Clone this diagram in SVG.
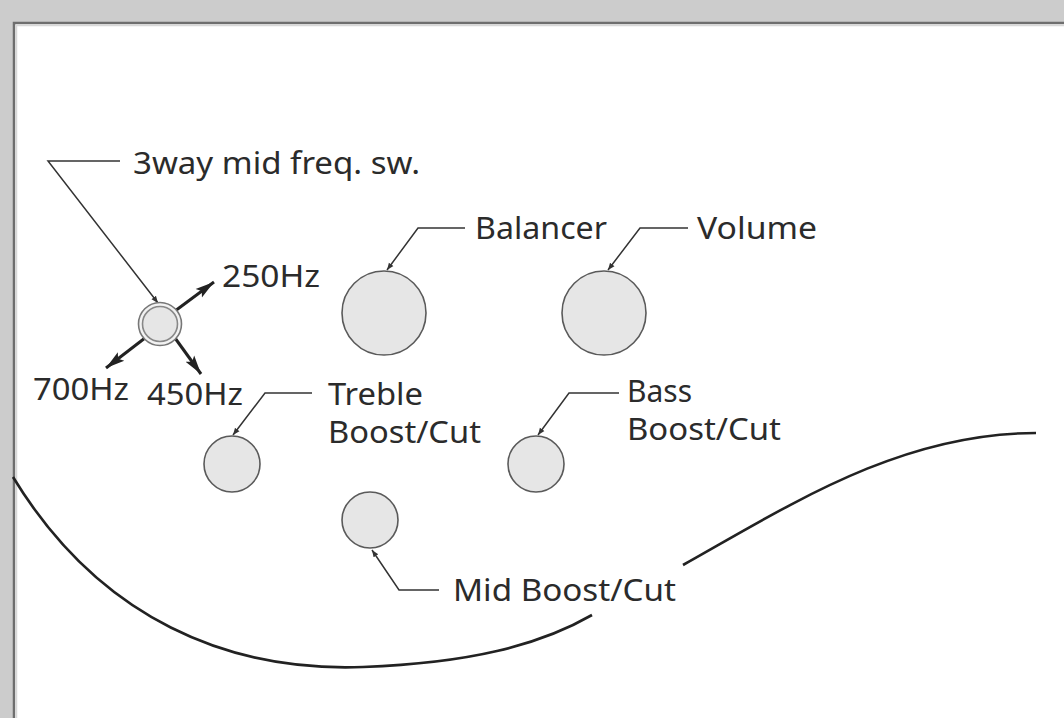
<svg xmlns="http://www.w3.org/2000/svg" width="1064" height="718" viewBox="0 0 1064 718">
<defs>
<marker id="sa" viewBox="0 0 10 10" refX="10" refY="5" markerWidth="7" markerHeight="7" markerUnits="userSpaceOnUse" orient="auto"><path d="M0,1 L10,5 L0,9 z" fill="#333"/></marker>
<marker id="ba" viewBox="0 0 10 10" refX="10" refY="5" markerWidth="19" markerHeight="19" markerUnits="userSpaceOnUse" orient="auto"><path d="M0,2.2 L10,5 L0,7.8 L2,5 z" fill="#222"/></marker>
<style>
.t{font-family:"Noto Sans","Open Sans",sans-serif;font-size:31px;fill:#2b2b2b}
.k{fill:#e6e6e6;stroke:#5a5a5a;stroke-width:1.6}
.ring{fill:#f2f2f2;stroke:#777;stroke-width:1.6}
.ld{fill:none;stroke:#333;stroke-width:1.5}
.sw{fill:none;stroke:#222;stroke-width:3}
.body{fill:none;stroke:#222;stroke-width:2.6}
</style>
</defs>
<rect x="0" y="0" width="1064" height="718" fill="#cccccc"/>
<rect x="13" y="22" width="1051" height="696" fill="#ffffff"/>
<path d="M14,718 L14,23 L1064,23" fill="none" stroke="#6e6e6e" stroke-width="2.5"/>
<path d="M16.5,718 L16.5,25.5 L1064,25.5" fill="none" stroke="#d8d8d8" stroke-width="1.5"/>

<g id="body-outline">
<path class="body" d="M13,477 C100,620 230,672 363,667 C470,663 540,645 592,615"/>
<path class="body" d="M683,565 C790,505 900,433 1036,433"/>
</g>

<g id="connectors">
<path class="ld" d="M120,161 L48,161 L158,303" marker-end="url(#sa)"/>
<path class="ld" d="M465,228 L418,228 L387,270" marker-end="url(#sa)"/>
<path class="ld" d="M688,228 L640,228 L608,270" marker-end="url(#sa)"/>
<path class="ld" d="M312,393 L265,393 L233,435" marker-end="url(#sa)"/>
<path class="ld" d="M619,393 L569,393 L538,435" marker-end="url(#sa)"/>
<path class="ld" d="M439,590 L399,590 L372,550" marker-end="url(#sa)"/>
<path class="sw" d="M175,311 L214,282" marker-end="url(#ba)"/>
<path class="sw" d="M145,338 L106,368" marker-end="url(#ba)"/>
<path class="sw" d="M175,338 L201,374" marker-end="url(#ba)"/>
</g>

<g id="switch">
<circle class="ring" cx="160" cy="324" r="21.5"/>
<circle class="k" cx="160" cy="324" r="17.5" style="stroke:#888"/>
<text class="t" x="133" y="174" textLength="287" lengthAdjust="spacingAndGlyphs">3way mid freq. sw.</text>
<text class="t" x="222" y="287" textLength="98" lengthAdjust="spacingAndGlyphs">250Hz</text>
<text class="t" x="33" y="400" textLength="96" lengthAdjust="spacingAndGlyphs">700Hz</text>
<text class="t" x="147" y="405" textLength="96" lengthAdjust="spacingAndGlyphs">450Hz</text>
</g>

<g id="balancer">
<circle class="k" cx="384" cy="313" r="42"/>
<text class="t" x="475" y="239" textLength="132" lengthAdjust="spacingAndGlyphs">Balancer</text>
</g>

<g id="volume">
<circle class="k" cx="604" cy="313" r="42"/>
<text class="t" x="697" y="239" textLength="120" lengthAdjust="spacingAndGlyphs">Volume</text>
</g>

<g id="treble">
<circle class="k" cx="232" cy="464" r="28"/>
<text class="t" x="328" y="405" textLength="95" lengthAdjust="spacingAndGlyphs">Treble</text>
<text class="t" x="328" y="443" textLength="153" lengthAdjust="spacingAndGlyphs">Boost/Cut</text>
</g>

<g id="bass">
<circle class="k" cx="536" cy="464" r="28"/>
<text class="t" x="627" y="402" textLength="65" lengthAdjust="spacingAndGlyphs">Bass</text>
<text class="t" x="627" y="440" textLength="154" lengthAdjust="spacingAndGlyphs">Boost/Cut</text>
</g>

<g id="mid">
<circle class="k" cx="370" cy="520" r="28"/>
<text class="t" x="453" y="601" textLength="223" lengthAdjust="spacingAndGlyphs">Mid Boost/Cut</text>
</g>
</svg>
